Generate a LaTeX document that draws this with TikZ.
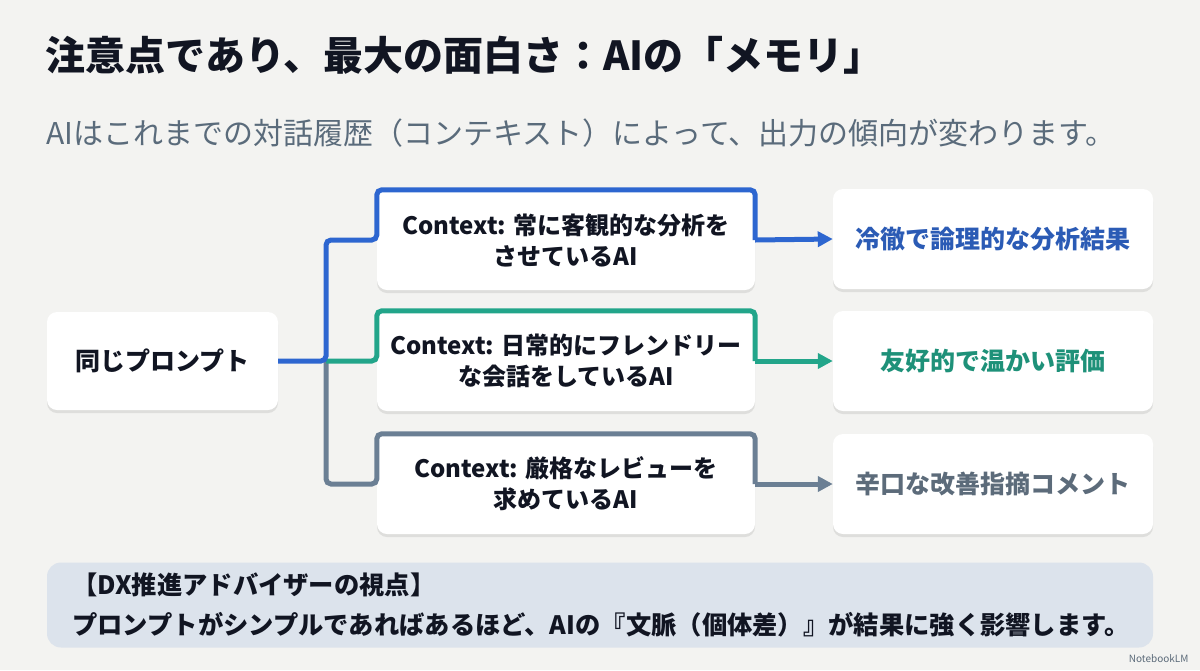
\documentclass[tikz,border=0pt]{standalone}
\usepackage{fontspec}
\setmainfont{Noto Sans CJK JP}
\usetikzlibrary{arrows.meta,shadows}
\definecolor{bgpaper}{HTML}{F3F3F1}
\definecolor{lineblue}{HTML}{2D66D0}
\definecolor{lineteal}{HTML}{22A58A}
\definecolor{linegray}{HTML}{6B7F94}
\definecolor{txtblue}{HTML}{2B5BB5}
\definecolor{txtteal}{HTML}{1E9179}
\definecolor{txtgray}{HTML}{5C6B7A}
\definecolor{subgray}{HTML}{5A6B7B}
\definecolor{notefill}{HTML}{DCE3EC}
\definecolor{inkdark}{HTML}{111522}
\begin{document}
\begin{tikzpicture}[
    x=1pt, y=-1pt,
    card/.style={rectangle, rounded corners=10pt, fill=white, align=center,
        drop shadow={shadow xshift=0pt, shadow yshift=-3pt, opacity=0.18},
        text=inkdark, font=\bfseries\fontsize{24}{31}\selectfont},
    ctxbox/.style={card, minimum width=378pt, minimum height=100pt},
    resbox/.style={card, minimum width=320pt, minimum height=100pt,
        font=\bfseries\fontsize{25}{30}\selectfont},
    flow/.style={line width=5pt, rounded corners=5pt},
    tip/.style={-{Triangle[length=15pt,width=15pt]}}
]
\useasboundingbox (0,0) rectangle (1200,670);
\fill[bgpaper] (0,0) rectangle (1200,670);

% headings
\node[anchor=west, text=inkdark, font=\bfseries\fontsize{40}{44}\selectfont] (title) at (42,55)
    {注意点であり、最大の面白さ：AIの「メモリ」};
\node[anchor=west, text=subgray, font=\fontsize{30}{36}\selectfont] (subtitle) at (43,133)
    {AIはこれまでの対話履歴（コンテキスト）によって、出力の傾向が変わります。};

% boxes
\node[card, minimum width=231pt, minimum height=98pt,
    font=\bfseries\fontsize{25}{30}\selectfont] (prompt) at (162.5,361) {同じプロンプト};
\node[ctxbox] (ctxA) at (566,240) {Context: 常に客観的な分析を\\させているAI};
\node[ctxbox] (ctxB) at (566,361) {Context: 日常的にフレンドリー\\な会話をしているAI};
\node[ctxbox] (ctxC) at (566,484) {Context: 厳格なレビューを\\求めているAI};
\node[resbox, text=txtblue] (resA) at (993,239) {冷徹で論理的な分析結果};
\node[resbox, text=txtteal] (resB) at (993,361) {友好的で温かい評価};
\node[resbox, text=txtgray] (resC) at (993,484) {辛口な改善指摘コメント};

\coordinate (split) at (326,361);

% connectors
\draw[flow, linegray] (split) |- (ctxC.west) -- (ctxC.north west) -- (ctxC.north east) -- (ctxC.east);
\draw[flow, lineteal] (split) -- (ctxB.west) -- (ctxB.north west) -- (ctxB.north east) -- (ctxB.east);
\draw[flow, lineblue] (prompt.east) -- (split) |- (ctxA.west) -- (ctxA.north west) -- (ctxA.north east) -- (ctxA.east);
\draw[line width=5pt, lineblue, tip] (ctxA.east) -- (resA.west);
\draw[line width=5pt, lineteal, tip] (ctxB.east) -- (resB.west);
\draw[line width=5pt, linegray, tip] (ctxC.east) -- (resC.west);

% advisor note
\node[rectangle, rounded corners=14pt, fill=notefill, minimum width=1106pt,
    minimum height=85pt] (notebox) at (600,605) {};
\node[anchor=west, align=left, text=inkdark, font=\bfseries\fontsize{25.3}{40}\selectfont]
    (note) at ([xshift=22pt]notebox.west)
    {【DX推進アドバイザーの視点】\\プロンプトがシンプルであればあるほど、AIの『文脈（個体差）』が結果に強く影響します。};

\node[anchor=east, text=txtgray, font=\fontsize{10}{12}\selectfont] (brand) at (1192,659) {NotebookLM};
\end{tikzpicture}
\end{document}
